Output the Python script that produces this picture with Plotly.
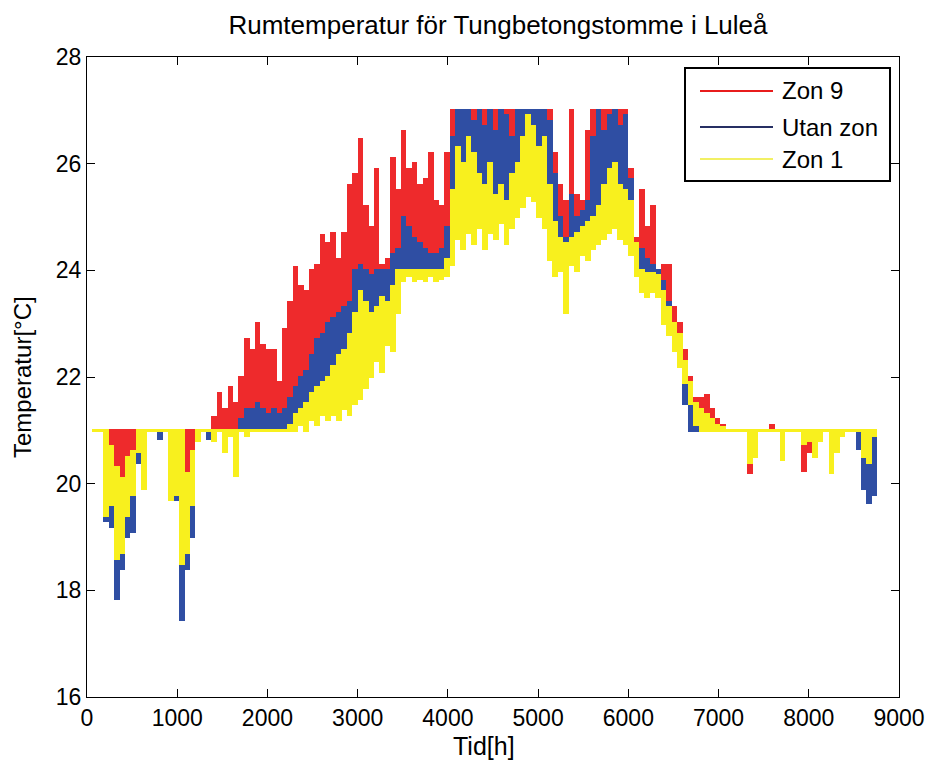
import plotly.graph_objects as go

# Hourly room temperature summarised per 60-hour block (min / max of each block)
BIN_H = 60
n_bins = 146
hours = [BIN_H * i + BIN_H / 2 for i in range(n_bins)]

# Zon 9
zon9_max = [
    None, 21, 21, 20.8, 21, 21, 21, 21, 21, 21,
    21, 21, 21, 21, 21, 21, 21, 21, 21, 21,
    21, 21, 21, 21.25, 21.7, 21.4, 21.8, 21.5, 22.0, 22.7,
    22.5, 23.0, 22.6, 22.5, 22.5, 21.9, 22.9, 23.4, 24.05, 23.7,
    23.6, 24.0, 24.1, 24.65, 24.5, 24.7, 24.2, 24.7, 25.6, 25.8,
    26.45, 25.2, 24.8, 25.9, 24.1, 24.2, 26.1, 25.5, 26.6, 25.9,
    26.0, 25.6, 25.7, 26.2, 25.3, 25.2, 26.2, 27, 27, 27,
    27, 27, 27, 27, 27, 27, 27, 27, 27, 27,
    27, 27, 27, 27, 27, 27, 26.2, 25.6, 25.3, 27.0,
    25.4, 25.3, 26.6, 27, 27, 27, 27, 27, 27, 27,
    25.9, 24.6, 25.5, 24.8, 25.2, 24.0, 24.1, 24.1, 23.3, 23.0,
    22.5, 22.0, 21.6, 21.6, 21.65, 21.4, 21.2, 21.1, 21, 21,
    21, 21, 21, 21, 21, 21, 21.1, 21, 21, 21,
    21, 21, 21, 21, 21, 21, 21, 21, 21, 21,
    21, 21, 21, 21, 21, 21,
]
zon9_min = [
    None, 21, 21, 19.3, 20.2, 20.3, 19.8, 20.0, 20.2, 21,
    21, 21, 21, 21, 21, 21, 20.7, 18.6, 19.8, 20.0,
    21, 21, 21, 21, 21, 21, 21, 21, 21, 21,
    21, 21, 21, 21, 21, 21, 21, 21.1, 21.3, 21.4,
    21.5, 21.6, 21.8, 21.9, 22.0, 22.2, 22.3, 22.5, 22.8, 23.2,
    23.4, 23.3, 23.2, 23.3, 23.5, 23.4, 23.7, 23.9, 24.0, 24.0,
    24.0, 24.0, 24.0, 24.0, 24.0, 24.0, 24.2, 25.0, 25.6, 25.5,
    25.7, 25.6, 25.5, 25.4, 25.6, 25.3, 25.5, 25.2, 25.4, 25.7,
    25.9, 26.0, 26.0, 25.7, 25.6, 25.0, 24.5, 24.4, 24.3, 24.5,
    24.6, 24.7, 24.7, 24.8, 25.0, 25.3, 25.6, 25.7, 25.4, 25.3,
    24.9, 24.2, 23.9, 23.8, 23.8, 23.7, 23.4, 23.1, 22.8, 22.5,
    22.0, 21.6, 21.2, 21.1, 21.2, 21.1, 21.0, 21, 21, 21,
    21, 21, 20.2, 21, 21, 21, 21, 21, 20.45, 21,
    21, 21, 20.25, 20.6, 20.5, 21, 21, 21, 21, 21,
    21, 21, 21, 21, 21, 21,
]

# Utan zon
utan_max = [
    None, 21, 21, 20.0, 19.9, 19.4, 19.5, 19.9, 20.0, 21,
    21, 21, 21, 21, 21, 21, 20.4, 19.4, 19.3, 20.0,
    21, 21, 21, 21, 21, 21, 21, 21, 21.2, 21.4,
    21.4, 21.5, 21.4, 21.3, 21.4, 21.3, 21.4, 21.6, 21.8, 22.0,
    22.1, 22.4, 22.7, 22.8, 23.0, 23.1, 23.2, 23.3, 23.4, 24.0,
    24.1, 24.0, 23.9, 24.0, 24.0, 24.0, 24.3, 24.4, 25.0, 24.8,
    24.6, 24.5, 24.4, 24.3, 24.3, 24.4, 24.8, 26.5, 27, 27,
    27, 26.8, 27, 26.7, 27, 26.6, 27, 26.9, 26.5, 27,
    27, 27, 27, 27, 27, 26.8, 25.8, 25.0, 24.6, 25.4,
    25.0, 25.1, 25.3, 26.5, 27, 26.6, 26.9, 27, 26.7, 26.9,
    25.7, 24.5, 24.4, 24.2, 24.1, 24.0, 23.8, 23.4, 23.0, 22.7,
    22.2, 21.7, 21.3, 21.2, 21.2, 21.1, 21.0, 21, 21, 21,
    21, 21, 21, 21, 21, 21, 21, 21, 21, 21,
    21, 21, 21, 21, 21, 21, 21, 21, 21, 21,
    21, 21, 21, 21, 21, 21,
]
utan_min = [
    None, 21, 21, 19.3, 19.2, 17.85, 18.4, 19.0, 19.1, 20.4,
    21, 21, 21, 20.85, 21, 20.9, 19.7, 17.45, 18.4, 19.0,
    21, 21, 20.85, 21, 21, 21, 21, 21, 21, 21,
    21, 21, 21, 21, 21, 21, 21, 21.0, 21.1, 21.2,
    21.3, 21.4, 21.5, 21.6, 21.7, 21.8, 22.0, 22.1, 22.4, 22.8,
    23.0, 23.0, 22.9, 23.0, 23.2, 23.2, 23.4, 23.6, 23.8, 23.9,
    23.8, 23.9, 23.8, 23.9, 23.8, 23.9, 24.0, 24.6, 25.4, 25.2,
    25.4, 25.3, 25.2, 25.0, 25.3, 25.0, 25.2, 24.9, 25.1, 25.4,
    25.6, 25.8, 25.7, 25.4, 25.4, 24.6, 24.2, 24.1, 24.0, 24.2,
    24.3, 24.4, 24.4, 24.5, 24.8, 25.0, 25.3, 25.4, 25.1, 25.0,
    24.6, 24.0, 23.7, 23.6, 23.7, 23.6, 23.2, 22.9, 22.6, 22.2,
    21.5, 21.0, 21.0, 21.0, 21.0, 21.0, 21.0, 21, 21, 21,
    21, 21, 21, 21, 21, 21, 21, 21, 21, 21,
    21, 21, 20.95, 21, 21, 21, 21, 20.6, 20.7, 21,
    21, 21, 20.65, 19.9, 19.65, 19.8,
]

# Zon 1
zon1_max = [
    None, 21, 21, 21, 20.7, 20.3, 20.1, 20.5, 20.6, 21,
    21, 21, 21, 21, 21, 21, 21, 21, 20.2, 20.6,
    21, 21, 21, 21, 21, 21, 21, 21, 21, 21,
    21, 21, 21, 21, 21, 21, 21, 21.1, 21.3, 21.4,
    21.5, 21.7, 21.8, 21.9, 22.0, 22.2, 22.4, 22.5, 22.8, 23.2,
    23.6, 23.4, 23.2, 23.3, 23.5, 23.4, 23.7, 24.0, 24.0, 24.0,
    24.0, 24.0, 24.0, 24.0, 24.0, 24.0, 24.2, 25.5, 26.3, 26.0,
    26.5, 26.2, 25.8, 25.6, 26.0, 25.4, 25.6, 25.3, 25.8, 26.0,
    26.5, 26.9, 26.7, 26.3, 26.5, 25.6, 24.9, 24.6, 24.5, 24.6,
    24.7, 24.8, 24.9, 25.0, 25.2, 25.6, 25.9, 26.0, 25.6, 25.5,
    25.3, 24.5, 24.0, 23.95, 23.95, 23.9, 23.6, 23.3, 23.0, 22.8,
    22.3, 21.9, 21.5, 21.4, 21.3, 21.2, 21.1, 21.05, 21, 21,
    21, 21, 21, 21, 21, 21, 21, 21, 21, 21,
    21, 21, 21, 21, 21, 21, 21, 21, 21, 21,
    21, 21, 21, 21, 21, 21,
]
zon1_min = [
    None, 21, 21, 19.4, 19.6, 18.6, 18.7, 19.4, 19.8, 20.6,
    19.9, 21, 21, 21, 21, 19.7, 19.8, 18.5, 18.7, 19.6,
    20.8, 21, 21, 20.8, 21, 20.6, 20.9, 20.15, 21, 20.9,
    21, 21, 21, 21, 21, 21, 21, 21, 21, 21.1,
    21.0, 21.2, 21.1, 21.3, 21.2, 21.3, 21.2, 21.4, 21.3, 21.5,
    21.6, 21.8, 22.0, 22.3, 22.1, 22.6, 22.5, 23.2, 23.8, 23.9,
    23.8, 23.85, 23.8, 23.9, 23.8, 23.85, 23.9, 24.1, 24.6, 24.4,
    24.7, 24.5, 24.8, 24.4, 24.7, 24.6, 24.9, 24.5, 24.8, 25.0,
    25.2, 25.4, 25.3, 25.0, 24.8, 24.2, 23.9, 24.0, 23.2, 24.1,
    24.0, 24.3, 24.2, 24.4, 24.5, 24.6, 24.7, 24.8, 24.6, 24.5,
    24.3, 23.9, 23.6, 23.5, 23.6, 23.5, 23.0, 22.8, 22.5, 22.2,
    21.9, 21.5, 21.1, 21.0, 21.0, 21.0, 21.0, 21.0, 21, 21,
    21, 21, 20.4, 20.5, 21, 21, 21, 21, 20.45, 21,
    21, 21, 20.75, 20.8, 20.5, 20.8, 21, 20.2, 20.6, 20.9,
    21, 21, 21, 20.5, 20.4, 20.9,
]

series = [
    ("Zon 9", zon9_min, zon9_max, "#ee2a2c", "#e81c1c"),
    ("Utan zon", utan_min, utan_max, "#2f4ea3", "#262f63"),
    ("Zon 1", zon1_min, zon1_max, "#f8f01e", "#f2f064"),
]

x_ticks = [0, 1000, 2000, 3000, 4000, 5000, 6000, 7000, 8000, 9000]
y_ticks = [16, 18, 20, 22, 24, 26, 28]

PAD = 0.025  # keeps flat stretches visible as a thin line

fig = go.Figure()
for name, lo, hi, fill, _ in series:
    base = [None if l is None else l - PAD for l in lo]
    span = [None if l is None else (h - l) + 2 * PAD for l, h in zip(lo, hi)]
    fig.add_trace(go.Bar(
        x=hours, y=span, base=base, width=BIN_H * 1.04,
        marker=dict(color=fill, line=dict(width=0)),
        name=name, showlegend=False, hoverinfo="skip",
    ))

# plot area in pixels
L, R, T, B = 87, 26, 57, 64
W, H = 925, 761
pw, ph = W - L - R, H - T - B


def px(xp):
    return (xp - L) / pw


def py(yp):
    return (H - B - yp) / ph


sans = "Liberation Sans, Arial, Helvetica, sans-serif"

axis_common = dict(
    showline=True, linecolor="black", linewidth=1, mirror="ticks",
    ticks="inside", ticklen=8, tickwidth=1, tickcolor="black",
    showgrid=False, zeroline=False, automargin=False,
    tickfont=dict(family=sans, size=23, color="black"),
)

fig.update_layout(
    width=W, height=H, autosize=False,
    margin=dict(l=L, r=R, t=T, b=B),
    paper_bgcolor="white", plot_bgcolor="white",
    barmode="overlay", bargap=0,
    xaxis=dict(range=[0, 9000], tickvals=x_ticks, ticktext=[str(v) for v in x_ticks], **axis_common),
    yaxis=dict(range=[16, 28], tickvals=y_ticks, ticktext=[str(v) for v in y_ticks], **axis_common),
    title=dict(text="Rumtemperatur för Tungbetongstomme i Luleå", x=px(498), xref="paper",
               xanchor="center", y=1 - 25 / H, yref="container", yanchor="middle",
               font=dict(family=sans, size=26, color="black"), automargin=False),
    showlegend=False,
)

annotations = [
    dict(text="Tid[h]", x=px(484), y=py(746), xref="paper", yref="paper",
         showarrow=False, xanchor="center", yanchor="middle",
         font=dict(family=sans, size=25, color="black")),
    dict(text="Temperatur[°C]", x=px(22), y=py(377), xref="paper", yref="paper",
         showarrow=False, xanchor="center", yanchor="middle", textangle=-90,
         font=dict(family=sans, size=24, color="black")),
]

shapes = [
    dict(type="rect", xref="paper", yref="paper", x0=px(685), x1=px(890), y0=py(181), y1=py(68),
         line=dict(color="black", width=2), fillcolor="white", layer="above"),
]
legend_rows = [91, 127, 159]
for (name, _, _, _, lcol), yrow in zip(series, legend_rows):
    shapes.append(dict(type="line", xref="paper", yref="paper", x0=px(700), x1=px(773),
                       y0=py(yrow), y1=py(yrow), line=dict(color=lcol, width=2), layer="above"))
    annotations.append(dict(text=name, x=px(780), y=py(yrow), xref="paper", yref="paper",
                            showarrow=False, xanchor="left", yanchor="middle",
                            font=dict(family=sans, size=24, color="black")))

fig.update_layout(shapes=shapes, annotations=annotations)
fig.write_html("out.html")
